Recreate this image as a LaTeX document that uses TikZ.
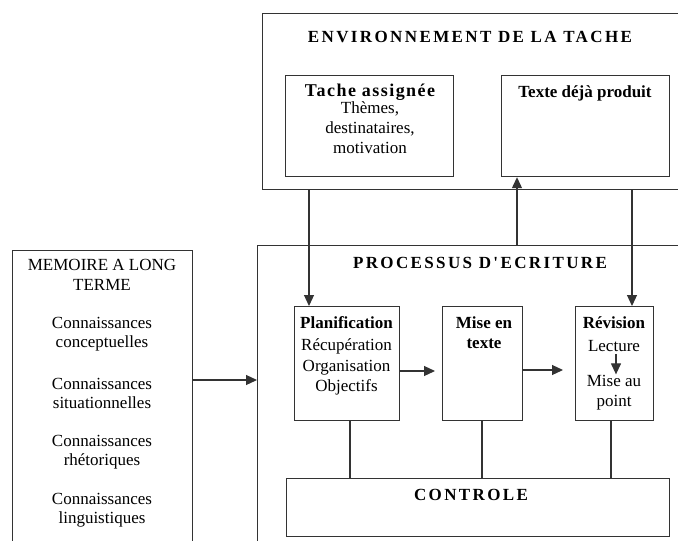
\documentclass[tikz,border=0pt]{standalone}
\usepackage{fontspec}
\setmainfont{Liberation Serif}
\newfontfamily\titlefont[LetterSpace=14]{Liberation Serif}
\newfontfamily\tachefont[LetterSpace=8]{Liberation Serif}
\usetikzlibrary{arrows.meta}
\begin{document}
\begin{tikzpicture}[x=1pt,y=-1pt,
  box/.style={draw=black!80, line width=1.2pt, inner sep=0pt, anchor=north west},
  txt/.style={inner sep=0pt, align=center, font=\fontsize{17}{20}\selectfont},
  btxt/.style={inner sep=0pt, align=center, font=\fontsize{17}{20}\selectfont\bfseries},
  ttl/.style={inner sep=0pt, font=\fontsize{17}{20}\selectfont\titlefont\bfseries},
  arr/.style={draw=black!80, line width=1.2pt, -{Triangle[length=11pt,width=10pt]}},
  ln/.style={draw=black!80, line width=1.2pt}]
\clip (0,0) rectangle (678,541);
\useasboundingbox (0,0) rectangle (678,541);
% big boxes (extend past the page edge)
\node[box, minimum width=440pt, minimum height=176pt] (env) at (262,13) {};
\node[box, minimum width=440pt, minimum height=320pt] (proc) at (257,245) {};
\node[box, minimum width=180pt, minimum height=320pt] (mem) at (12,250) {};
% inner boxes
\node[box, minimum width=168pt, minimum height=101pt] (tache) at (285,75) {};
\node[box, minimum width=168pt, minimum height=101pt] (texte) at (501,75) {};
\node[box, minimum width=105pt, minimum height=114pt] (planif) at (294,306) {};
\node[box, minimum width=80pt, minimum height=114pt] (mise) at (442,306) {};
\node[box, minimum width=78pt, minimum height=114pt] (revis) at (575,306) {};
\node[box, minimum width=383pt, minimum height=58pt] (ctrl) at (286,478) {};
% titles
\node[ttl] (envt) at (470,37) {ENVIRONNEMENT DE LA TACHE};
\node[ttl] (proct) at (480,263) {PROCESSUS D'ECRITURE};
\node[ttl] (ctrlt) at (471,495) {CONTROLE};
% memoire texts
\node[txt] (m0) at (102,275) {MEMOIRE A LONG\\TERME};
\node[txt, font=\fontsize{17}{19}\selectfont] (m1) at (102,334) {Connaissances\\conceptuelles};
\node[txt, font=\fontsize{17}{19}\selectfont] (m2) at (102,393) {Connaissances\\situationnelles};
\node[txt, font=\fontsize{17}{19}\selectfont] (m3) at (102,452) {Connaissances\\rhétoriques};
\node[txt, font=\fontsize{17}{19}\selectfont] (m4) at (102,510) {Connaissances\\linguistiques};
% tache texts
\node[inner sep=0pt, font=\fontsize{18}{20}\selectfont\tachefont\bfseries] (tat) at (370,92) {Tache assignée};
\node[txt] (tab) at (370,128) {Thèmes,\\destinataires,\\motivation};
\node[btxt] (tet) at (585,93) {Texte déjà produit};
% process texts
\node[btxt] (pt) at (346.5,323) {Planification};
\node[txt, font=\fontsize{17}{20.5}\selectfont] (pb) at (346.5,367) {Récupération\\Organisation\\Objectifs};
\node[btxt] (mt) at (484,333) {Mise en\\texte};
\node[btxt] (rt) at (614,323) {Révision};
\node[txt] (lect) at (614,346) {Lecture};
\node[txt] (map) at (614,393) {Mise au\\point};
% connector x positions
\coordinate (xa) at (309,0);
\coordinate (xb) at (517,0);
\coordinate (xc) at (632,0);
\coordinate (xl) at (616,0);
\coordinate (ya) at (0,380);
\coordinate (yb) at (0,371);
\coordinate (yc) at (0,370);
\coordinate (k1) at (350,0);
\coordinate (k2) at (482,0);
\coordinate (k3) at (611,0);
% connectors
\draw[arr] (env.south -| xa) -- (planif.north -| xa);
\draw[arr] (proc.north -| xb) -- (texte.south -| xb);
\draw[arr] (env.south -| xc) -- (revis.north -| xc);
\draw[arr] (mem.east |- ya) -- (proc.west |- ya);
\draw[arr, shorten >=7pt] (planif.east |- yb) -- (mise.west |- yb);
\draw[arr, shorten >=12pt] (mise.east |- yc) -- (revis.west |- yc);
\draw[arr, shorten <=2pt, shorten >=1pt] (lect.south -| xl) -- (map.north -| xl);
\draw[ln] (planif.south -| k1) -- (ctrl.north -| k1);
\draw[ln] (mise.south -| k2) -- (ctrl.north -| k2);
\draw[ln] (revis.south -| k3) -- (ctrl.north -| k3);
\end{tikzpicture}
\end{document}
